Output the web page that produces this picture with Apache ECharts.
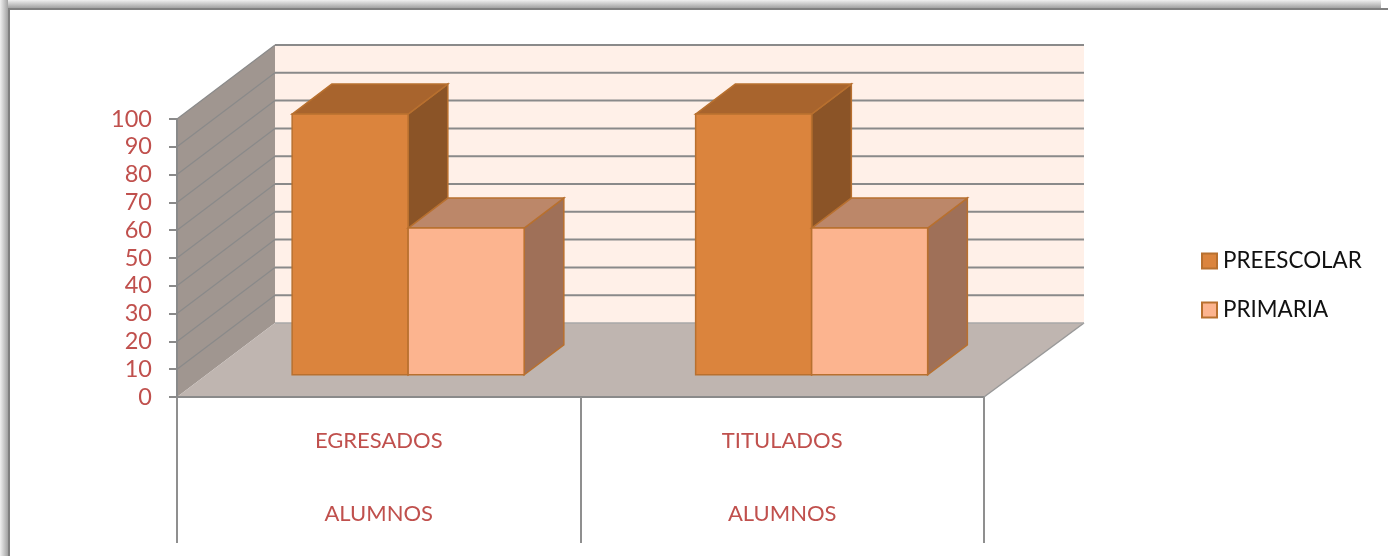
<!DOCTYPE html>
<html>
<head>
<meta charset="utf-8">
<style>html,body{margin:0;padding:0;background:#fff}#c{width:1388px;height:556px}</style>
<script src="https://cdn.jsdelivr.net/npm/echarts@6/dist/echarts.min.js"></script>
</head>
<body>
<div id="c"></div>
<script>
const categories = ['EGRESADOS', 'TITULADOS'];
const groupLabels = ['ALUMNOS', 'ALUMNOS'];
const seriesNames = ['PREESCOLAR', 'PRIMARIA'];
const preescolar = [94, 94];
const primaria = [53, 53];
const yTicks = [0, 10, 20, 30, 40, 50, 60, 70, 80, 90, 100];

const DX = 98, DX_RIGHT = 100, DY = -74;
const BAR_START = 0.3, BAR_DEPTH = 0.405, BAR_W = 0.2875;
const FONT = 'Lato, "Open Sans", sans-serif';
const RED = '#c0504d', GRID = '#8a8a8a', EDGE = '#b8702f';
const palettes = [
  {front: '#db843d', top: '#a8642d', side: '#8b5427'},
  {front: '#fcb48f', top: '#bc8769', side: '#9f7058'}
];

function poly(points, fill, stroke, lw) {
  return {type: 'polygon', shape: {points}, style: {fill, stroke: stroke || null, lineWidth: lw || 0}, silent: true};
}
function line(a, b, stroke, lw) {
  return {type: 'line', shape: {x1: a[0], y1: a[1], x2: b[0], y2: b[1]}, style: {stroke, lineWidth: lw}, silent: true};
}

function renderWalls(params, api) {
  const v = api.value(0);
  const band = api.size([1, 0])[0];
  const left = api.coord([0, 0])[0] - band / 2;
  const right = left + band * categories.length;
  const y = api.coord([0, v])[1];
  const children = [];
  if (v === 0) {
    const top = api.coord([0, 100])[1];
    children.push(poly([[left + DX, top + DY], [right + DX_RIGHT, top + DY], [right + DX_RIGHT, y + DY], [left + DX, y + DY]], '#fff0e8'));
    children.push(poly([[left, top], [left + DX, top + DY], [left + DX, y + DY], [left, y]], '#a09690'));
    children.push(poly([[left, y], [left + DX, y + DY], [right + DX_RIGHT, y + DY], [right, y]], '#bfb5b0'));
    children.push(line([right, y], [right + DX_RIGHT, y + DY], '#999', 1.5));
    children.push(line([left, y], [right, y], GRID, 2));
    children.push(line([left + DX, y + DY], [right + DX_RIGHT, y + DY], '#a8a8a8', 1.5));
  } else {
    children.push(line([left + DX, y + DY], [right + DX_RIGHT, y + DY], GRID, 2));
    children.push(line([left, y], [left + DX, y + DY], GRID, 1.2));
  }
  return {type: 'group', children};
}

function makeRenderBar(idx) {
  return function (params, api) {
    const cat = api.value(0), val = api.value(1);
    const band = api.size([1, 0])[0];
    const base = api.coord([cat, 0]), peak = api.coord([cat, val]);
    const w = band * BAR_W;
    const sx = DX * BAR_START, sy = DY * BAR_START;
    const x0 = base[0] + (idx - 1) * w + sx, x1 = x0 + w;
    const yb = base[1] + sy, yt = peak[1] + sy + 0.6;
    const dx = DX * BAR_DEPTH, dy = DY * BAR_DEPTH;
    const p = palettes[idx];
    return {type: 'group', children: [
      poly([[x1, yt], [x1 + dx, yt + dy], [x1 + dx, yb + dy], [x1, yb]], p.side, EDGE, 1.5),
      poly([[x0, yt], [x0 + dx, yt + dy], [x1 + dx, yt + dy], [x1, yt]], p.top, EDGE, 1.5),
      poly([[x0, yt], [x1, yt], [x1, yb], [x0, yb]], p.front, EDGE, 1.5)
    ]};
  };
}

const chart = echarts.init(document.getElementById('c'), null, {renderer: 'canvas'});
chart.setOption({
  animation: false,
  backgroundColor: '#fff',
  grid: {left: 177, top: 119, right: 404, bottom: 159, containLabel: false},
  legend: {
    left: 1196, top: 245, orient: 'vertical', icon: 'rect',
    itemWidth: 15, itemHeight: 15, itemGap: 27, selectedMode: false,
    textStyle: {fontFamily: FONT, fontSize: 22.4, color: '#111', padding: [0, 0, 0, 1]},
    data: seriesNames.map((name, i) => ({
      name, itemStyle: {color: palettes[i].front, borderColor: EDGE, borderWidth: 2}
    }))
  },
  graphic: [
    {type: 'rect', left: 0, top: 0, shape: {width: 1381, height: 8}, z: 50, silent: true,
      style: {fill: {type: 'linear', x: 0, y: 0, x2: 0, y2: 1, colorStops: [{offset: 0, color: '#f0f0f0'}, {offset: 1, color: '#a2a2a2'}]}}},
    {type: 'rect', left: 0, top: 0, shape: {width: 8, height: 556}, z: 50, silent: true,
      style: {fill: {type: 'linear', x: 0, y: 0, x2: 1, y2: 0, colorStops: [{offset: 0, color: '#f0f0f0'}, {offset: 1, color: '#a2a2a2'}]}}},
    {type: 'rect', left: 8, top: 8, shape: {width: 1380, height: 2}, z: 51, silent: true, style: {fill: '#808080'}},
    {type: 'rect', left: 8, top: 8, shape: {width: 2, height: 548}, z: 51, silent: true, style: {fill: '#808080'}}
  ],
  xAxis: [
    {type: 'category', data: categories, z: 5, position: 'bottom',
      axisLine: {show: false},
      axisTick: {show: true, length: 146, lineStyle: {color: '#8f8f8f', width: 2}},
      axisLabel: {color: RED, fontFamily: FONT, fontSize: 22, margin: 33}},
    {type: 'category', data: groupLabels, z: 5, position: 'bottom', offset: 0,
      axisLine: {show: false}, axisTick: {show: false},
      axisLabel: {color: RED, fontFamily: FONT, fontSize: 22, margin: 106}}
  ],
  yAxis: {
    type: 'value', min: 0, max: 100, interval: 10, z: 5,
    splitLine: {show: false},
    axisLine: {show: true, lineStyle: {color: GRID, width: 2}},
    axisTick: {show: true, length: 8, lineStyle: {color: GRID, width: 2}},
    axisLabel: {color: RED, fontFamily: FONT, fontSize: 23.5, margin: 25, padding: [7, 0, 0, 0], customValues: yTicks}
  },
  series: [
    {type: 'custom', name: 'walls', z: 1, silent: true, clip: false, renderItem: renderWalls,
      coordinateSystem: 'cartesian2d', data: yTicks.map(v => [v]), encode: {y: 0}},
    {type: 'custom', name: seriesNames[0], z: 2, silent: true, clip: false, renderItem: makeRenderBar(0),
      itemStyle: {color: palettes[0].front}, data: preescolar.map((v, i) => [i, v]), encode: {x: 0, y: 1}},
    {type: 'custom', name: seriesNames[1], z: 3, silent: true, clip: false, renderItem: makeRenderBar(1),
      itemStyle: {color: palettes[1].front}, data: primaria.map((v, i) => [i, v]), encode: {x: 0, y: 1}}
  ]
});
</script>
</body>
</html>
